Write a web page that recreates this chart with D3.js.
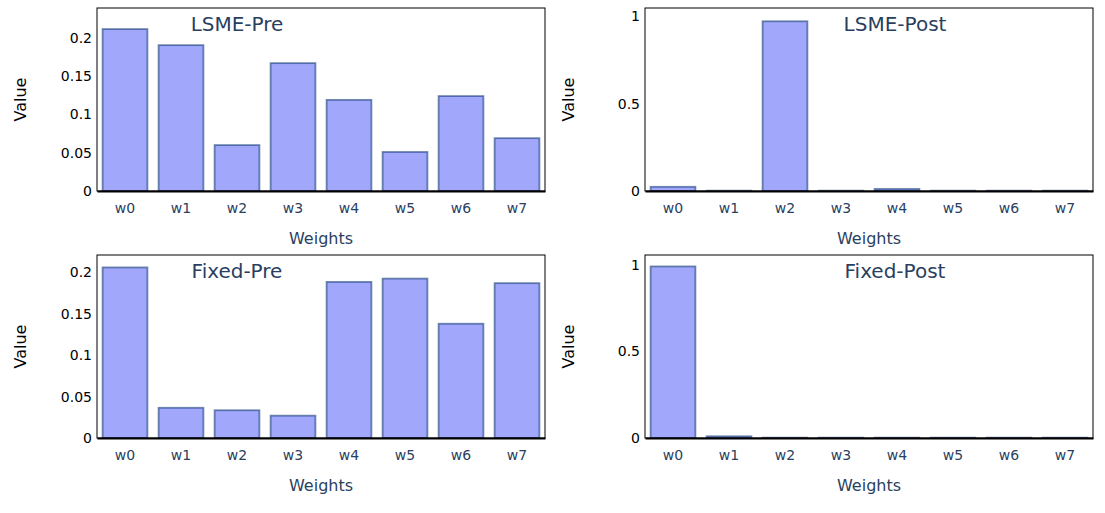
<!DOCTYPE html>
<html>
<head>
<meta charset="utf-8">
<script src="https://cdn.jsdelivr.net/npm/d3@7"></script>
<style>
  body { margin: 0; background: #fff; }
  svg { font-family: "DejaVu Sans", Verdana, sans-serif; }
</style>
</head>
<body>
<div class="chart"></div>
<script>
// ---------------------------------- DATA
var weights = ["w0", "w1", "w2", "w3", "w4", "w5", "w6", "w7"];

var lsmePre   = [0.2115, 0.1905, 0.060, 0.167, 0.119, 0.051, 0.124, 0.069];
var lsmePost  = [0.024, 0.002, 0.970, 0.002, 0.012, 0.002, 0.002, 0.002];
var fixedPre  = [0.206, 0.0365, 0.0335, 0.027, 0.1885, 0.1925, 0.138, 0.187];
var fixedPost = [0.990, 0.010, 0.002, 0.002, 0.002, 0.002, 0.002, 0.002];

var titles = ["LSME-Pre", "LSME-Post", "Fixed-Pre", "Fixed-Post"];
var preTicks  = [0, 0.05, 0.1, 0.15, 0.2];
var postTicks = [0, 0.5, 1];

// ---------------------------------- LAYOUT
var width = 1105, height = 513;
var cols = [97, 645];          // left edge of each column
var rows = [8, 255];           // top edge of each row
var plotW = 448, plotH = 183;

var panels = [
  { title: titles[0], values: lsmePre,   ticks: preTicks,  max: 0.239, col: 0, row: 0, titleX: 140 },
  { title: titles[1], values: lsmePost,  ticks: postTicks, max: 1.046, col: 1, row: 0, titleX: 250 },
  { title: titles[2], values: fixedPre,  ticks: preTicks,  max: 0.221, col: 0, row: 1, titleX: 140 },
  { title: titles[3], values: fixedPost, ticks: postTicks, max: 1.056, col: 1, row: 1, titleX: 250 }
];

var svg = d3.select(".chart").append("svg")
  .attr("width", width)
  .attr("height", height);

panels.forEach(function(p) {
  var g = svg.append("g")
    .attr("transform", "translate(" + cols[p.col] + "," + rows[p.row] + ")");

  // bar gap 0.2 of each slot, half a gap at each end
  var x = d3.scaleBand()
    .domain(weights)
    .range([0, plotW])
    .paddingInner(0.2)
    .paddingOuter(0.1);

  var y = d3.scaleLinear()
    .domain([0, p.max])
    .range([plotH, 0]);

  // bars
  g.selectAll("rect.bar")
    .data(p.values)
    .enter().append("rect")
      .attr("class", "bar")
      .attr("x", function(d, i) { return x(weights[i]); })
      .attr("y", function(d) { return y(d); })
      .attr("width", x.bandwidth())
      .attr("height", function(d) { return plotH - y(d); })
      .attr("fill", "rgb(99,110,250)")
      .attr("fill-opacity", 0.6)
      .attr("stroke", "rgb(8,48,107)")
      .attr("stroke-opacity", 0.55)
      .attr("stroke-width", 1.8);

  // frame
  g.append("rect")
    .attr("x", 0).attr("y", 0)
    .attr("width", plotW).attr("height", plotH)
    .attr("fill", "none")
    .attr("stroke", "#000")
    .attr("stroke-width", 1);

  // x axis
  var xAxis = g.append("g")
    .attr("transform", "translate(0," + plotH + ")")
    .call(d3.axisBottom(x).tickSize(0).tickPadding(12));
  xAxis.select(".domain").attr("stroke", "#000").attr("stroke-width", 2);
  xAxis.selectAll("text")
    .attr("font-size", 14)
    .attr("font-family", "DejaVu Sans, Verdana, sans-serif")
    .attr("fill", "#2a3f5f");

  // y axis
  var yAxis = g.append("g")
    .call(d3.axisLeft(y).tickValues(p.ticks).tickFormat(function(d) { return d; })
      .tickSize(0).tickPadding(5));
  yAxis.select(".domain").remove();
  yAxis.selectAll("text")
    .attr("font-size", 14)
    .attr("font-family", "DejaVu Sans, Verdana, sans-serif")
    .attr("fill", "#000");

  // subplot title
  g.append("text")
    .attr("x", p.titleX)
    .attr("y", 23)
    .attr("text-anchor", "middle")
    .attr("font-size", 20)
    .attr("fill", "#2a3f5f")
    .text(p.title);

  // axis titles
  g.append("text")
    .attr("x", plotW / 2)
    .attr("y", plotH + 53)
    .attr("text-anchor", "middle")
    .attr("font-size", 16)
    .attr("fill", "#2a3f5f")
    .text("Weights");

  g.append("text")
    .attr("transform", "translate(-71," + (plotH / 2) + ") rotate(-90)")
    .attr("text-anchor", "middle")
    .attr("font-size", 16)
    .attr("fill", "#000")
    .text("Value");
});
</script>
</body>
</html>
